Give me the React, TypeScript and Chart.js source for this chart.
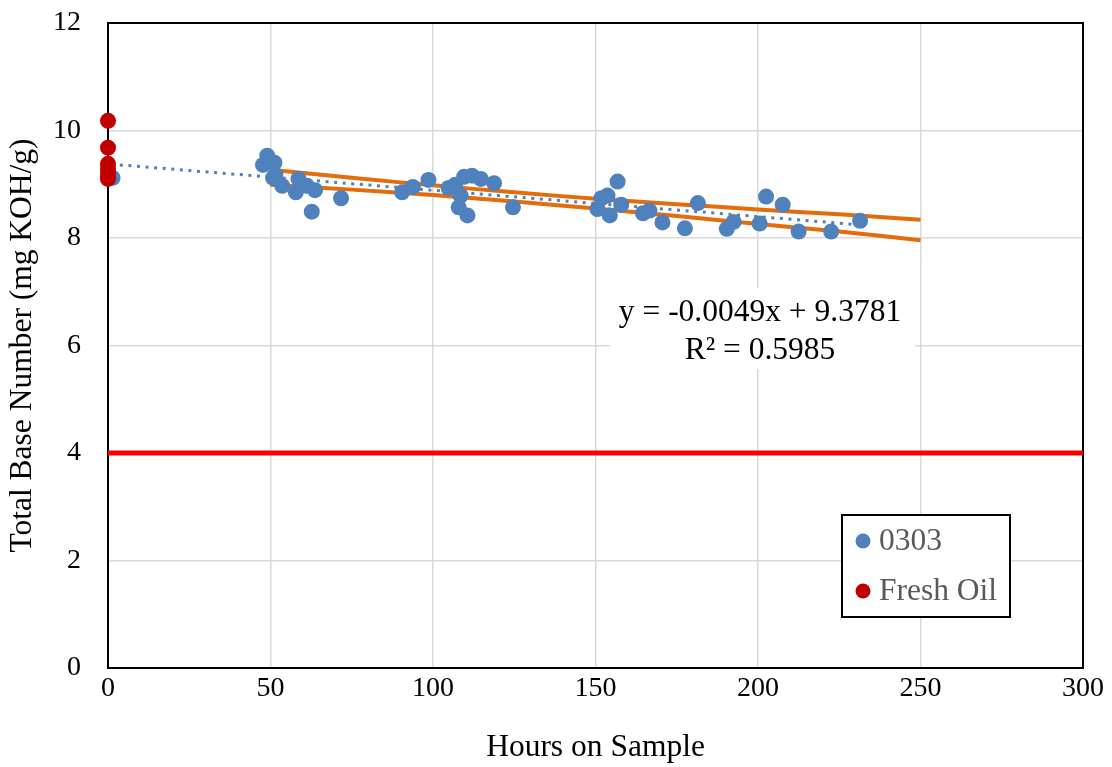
import React, { useEffect, useRef } from "react";
import { Chart, registerables } from "chart.js";

Chart.register(...registerables);

// ---- Data ----
const hours0303 = [1.4, 47.7, 49, 50.8, 51.2, 51.5, 53.6, 57.8, 58.6, 61.2, 62.7, 63.7, 71.7, 90.5, 93.8, 98.6, 104.8, 106.8, 107.9, 108.5, 109.6, 110.6, 112, 114.7, 118.8, 124.6, 150.6, 151.8, 153.7, 154.4, 156.8, 157.9, 164.6, 166.6, 170.6, 177.5, 181.5, 190.4, 192.5, 200.5, 202.5, 207.6, 212.5, 222.5, 231.4];
const tbn0303 = [9.12, 9.36, 9.53, 9.12, 9.4, 9.18, 8.97, 8.85, 9.1, 8.97, 8.49, 8.89, 8.74, 8.85, 8.95, 9.08, 8.93, 8.99, 8.57, 8.79, 9.14, 8.42, 9.16, 9.1, 9.02, 8.57, 8.54, 8.74, 8.79, 8.42, 9.05, 8.62, 8.46, 8.51, 8.29, 8.18, 8.65, 8.17, 8.3, 8.27, 8.77, 8.62, 8.12, 8.12, 8.32];

const freshHours = [0, 0, 0, 0, 0, 0, 0];
const freshTbn = [10.18, 9.68, 9.38, 9.3, 9.22, 9.14, 9.1];

const trendHours = [1, 231.5];
const trendTbn = [9.373, 8.244];

const bandHours = [50, 75, 100, 125, 150, 175, 200, 225, 250];
const bandUpper = [9.27, 9.12, 8.98, 8.85, 8.73, 8.63, 8.53, 8.44, 8.34];
const bandLower = [8.99, 8.9, 8.8, 8.68, 8.55, 8.41, 8.26, 8.12, 7.96];

const limitHours = [0, 300];
const limitTbn = [4, 4];

const seriesNames = ["0303", "Fresh Oil"];
const equationLines = ["y = -0.0049x + 9.3781", "R² = 0.5985"];
const xTitle = "Hours on Sample";
const yTitle = "Total Base Number (mg KOH/g)";

const BLUE = "#4F81BD";
const DARKRED = "#C00000";
const ORANGE = "#E46C0A";
const FONT = "'Liberation Serif', 'Times New Roman', serif";

const pts = (xs: number[], ys: number[]) => xs.map((x, i) => ({ x, y: ys[i] }));

const framePlugin = {
  id: "frame",
  beforeDatasetsDraw(chart: any) {
    const { ctx, chartArea: a } = chart;
    ctx.save();
    ctx.strokeStyle = "#000";
    ctx.lineWidth = 2;
    ctx.strokeRect(a.left, a.top, a.right - a.left, a.bottom - a.top);
    ctx.restore();
  },
};

const overlayPlugin = {
  id: "overlay",
  afterDraw(chart: any) {
    const { ctx, chartArea: a } = chart;
    ctx.save();
    // equation box
    const cx = a.left + 652;
    ctx.fillStyle = "#fff";
    ctx.fillRect(a.left + 502, a.top + 265, 305, 81);
    ctx.fillStyle = "#000";
    ctx.font = `31.5px ${FONT}`;
    ctx.textAlign = "center";
    ctx.textBaseline = "middle";
    ctx.fillText(equationLines[0], cx, a.top + 290);
    ctx.fillText(equationLines[1], cx, a.top + 328);

    // legend
    const lx = a.left + 734;
    const ly = a.top + 492;
    ctx.fillStyle = "#fff";
    ctx.fillRect(lx, ly, 168, 102);
    ctx.strokeStyle = "#000";
    ctx.lineWidth = 2;
    ctx.strokeRect(lx, ly, 168, 102);
    const colors = [BLUE, DARKRED];
    seriesNames.forEach((name, i) => {
      const y = ly + 26 + i * 50;
      ctx.fillStyle = colors[i];
      ctx.beginPath();
      ctx.arc(lx + 21, y, 7.5, 0, Math.PI * 2);
      ctx.fill();
      ctx.fillStyle = "#595959";
      ctx.textAlign = "left";
      ctx.fillText(name, lx + 37, y + 1);
    });
    ctx.restore();
  },
};

export default function App() {
  const ref = useRef<HTMLCanvasElement | null>(null);

  useEffect(() => {
    if (!ref.current) return;
    const chart = new Chart(ref.current, {
      type: "scatter",
      data: {
        datasets: [
          {
            label: seriesNames[1],
            data: pts(freshHours, freshTbn),
            backgroundColor: DARKRED,
            borderColor: DARKRED,
            pointRadius: 8,
            pointBorderWidth: 0,
            order: 0,
          },
          {
            label: seriesNames[0],
            data: pts(hours0303, tbn0303),
            backgroundColor: BLUE,
            borderColor: BLUE,
            pointRadius: 8,
            pointBorderWidth: 0,
            order: 1,
          },
          {
            label: "trend",
            data: pts(trendHours, trendTbn),
            showLine: true,
            borderColor: BLUE,
            borderWidth: 3,
            borderDash: [3, 5.6],
            pointRadius: 0,
            order: 2,
          },
          {
            label: "upper",
            data: pts(bandHours, bandUpper),
            showLine: true,
            borderColor: ORANGE,
            borderWidth: 4,
            tension: 0.3,
            pointRadius: 0,
            order: 3,
          },
          {
            label: "lower",
            data: pts(bandHours, bandLower),
            showLine: true,
            borderColor: ORANGE,
            borderWidth: 4,
            tension: 0.3,
            pointRadius: 0,
            order: 4,
          },
          {
            label: "limit",
            data: pts(limitHours, limitTbn),
            showLine: true,
            borderColor: "#FF0000",
            borderWidth: 5,
            pointRadius: 0,
            order: 5,
          },
        ] as any,
      },
      options: {
        responsive: false,
        animation: false,
        clip: false as any,
        layout: { padding: { top: 23, right: 29, left: 0, bottom: 0 } },
        plugins: { legend: { display: false }, tooltip: { enabled: false } },
        scales: {
          x: {
            type: "linear",
            min: 0,
            max: 300,
            ticks: { stepSize: 50, color: "#000", padding: 4, font: { family: FONT, size: 28 } },
            grid: { color: "#d9d9d9", lineWidth: 1.5, drawTicks: false },
            border: { display: false },
            title: { display: true, text: xTitle, color: "#000", font: { family: FONT, size: 31.5 }, padding: { top: 0, bottom: 0 } },
            afterFit: (s: any) => { s.height = 99; s.paddingLeft = 0; s.paddingRight = 0; },
          },
          y: {
            type: "linear",
            min: 0,
            max: 12,
            ticks: { stepSize: 2, color: "#000", padding: 27, font: { family: FONT, size: 28 } },
            grid: { color: "#d9d9d9", lineWidth: 1.5, drawTicks: false },
            border: { display: false },
            title: { display: true, text: yTitle, color: "#000", font: { family: FONT, size: 31.5 }, padding: { top: 3.5, bottom: 0 } },
            afterFit: (s: any) => { s.width = 108; s.paddingTop = 0; s.paddingBottom = 0; },
          },
        },
      } as any,
      plugins: [framePlugin, overlayPlugin],
    });
    return () => chart.destroy();
  }, []);

  return (
    <div style={{ position: "absolute", left: 0, top: 0, width: 1112, height: 767, background: "#fff" }}>
      <canvas ref={ref} width={1112} height={767} />
    </div>
  );
}
